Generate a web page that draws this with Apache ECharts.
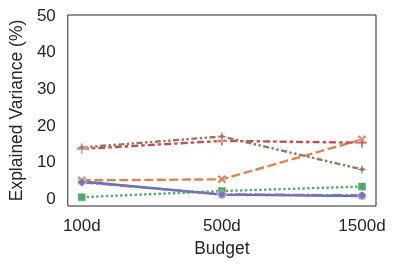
<!DOCTYPE html>
<html>
<head>
<meta charset="utf-8">
<script src="https://cdn.jsdelivr.net/npm/echarts@6/dist/echarts.min.js"></script>
<style>
  html, body { margin: 0; padding: 0; background: #fff; }
  #chart { width: 409px; height: 269px; }
</style>
</head>
<body>
<div id="chart"></div>
<script>
// Budgets on the x axis
const budgets = ["100d", "500d", "1500d"];

// Explained variance (%) per method
const blueVals = [4.8, 1.2, 0.8];
const orangeVals = [5.1, 5.4, 16.3];
const greenVals = [0.5, 2.2, 3.4];
const redVals = [13.7, 15.9, 15.4];
const purpleVals = [4.6, 1.3, 1.0];
const brownVals = [14.1, 17.1, 8.1];

const yTicks = [0, 10, 20, 30, 40, 50];

const textColor = "#262626";
const fontFamily = '"Liberation Sans", Arial, sans-serif';

// Marker paths (matplotlib-like X and P)
const xMarker =
  "path://M2,0 L5,3 L8,0 L10,2 L7,5 L10,8 L8,10 L5,7 L2,10 L0,8 L3,5 L0,2 Z";
const plusMarker =
  "path://M4,0 L6,0 L6,4 L10,4 L10,6 L6,6 L6,10 L4,10 L4,6 L0,6 L0,4 L4,4 Z";
const starPlus =
  "path://M5,0 L6.2,3.8 L10,5 L6.2,6.2 L5,10 L3.8,6.2 L0,5 L3.8,3.8 Z";

function makeSeries(name, vals, color, lineType, symbol, size) {
  return {
    name: name,
    type: "line",
    data: vals.map((v, i) => [i, v]),
    symbol: symbol,
    symbolSize: size,
    showSymbol: true,
    lineStyle: { color: color, width: 2.4, type: lineType },
    itemStyle: { color: color, borderColor: "#fff", borderWidth: 0.5 },
    emphasis: { disabled: true },
  };
}

const chart = echarts.init(document.getElementById("chart"));

const option = {
  animation: false,
  textStyle: { fontFamily: fontFamily },
  grid: {
    left: 66,
    right: 33,
    top: 15,
    bottom: 63,
    show: true,
    borderColor: textColor,
    borderWidth: 1,
    backgroundColor: "#fff",
  },
  xAxis: {
    type: "value",
    min: -0.1,
    max: 2.1,
    name: "Budget",
    nameLocation: "middle",
    nameGap: 33,
    nameTextStyle: { fontSize: 17.5, color: textColor },
    axisLine: { show: false },
    axisTick: { show: false },
    splitLine: { show: false },
    axisLabel: {
      customValues: [0, 1, 2],
      formatter: (v) => budgets[Math.round(v)],
      fontSize: 17,
      color: textColor,
      margin: 12,
    },
  },
  yAxis: {
    type: "value",
    min: -1.9,
    max: 50.3,
    name: "Explained Variance (%)",
    nameLocation: "middle",
    nameGap: 40,
    nameTextStyle: { fontSize: 17.5, color: textColor },
    axisLine: { show: false },
    axisTick: { show: false },
    splitLine: { show: false },
    axisLabel: {
      customValues: yTicks,
      fontSize: 17,
      color: textColor,
      margin: 12,
    },
  },
  series: [
    makeSeries("blue", blueVals, "#4C72B0", "solid", "circle", 8),
    makeSeries("orange", orangeVals, "#DD8452", [9, 3.5], xMarker, 9),
    makeSeries("green", greenVals, "#55A868", [2.4, 2.4], "rect", 8),
    makeSeries("red", redVals, "#C44E52", [7, 3, 3.5, 3], plusMarker, 10),
    makeSeries("purple", purpleVals, "#8172B3", [12, 2.4, 2.4, 2.4], "diamond", 9),
    makeSeries("brown", brownVals, "#937860", [6, 2.5, 2.4, 2.5, 2.4, 2.5], starPlus, 11),
  ],
};

chart.setOption(option);
</script>
</body>
</html>
